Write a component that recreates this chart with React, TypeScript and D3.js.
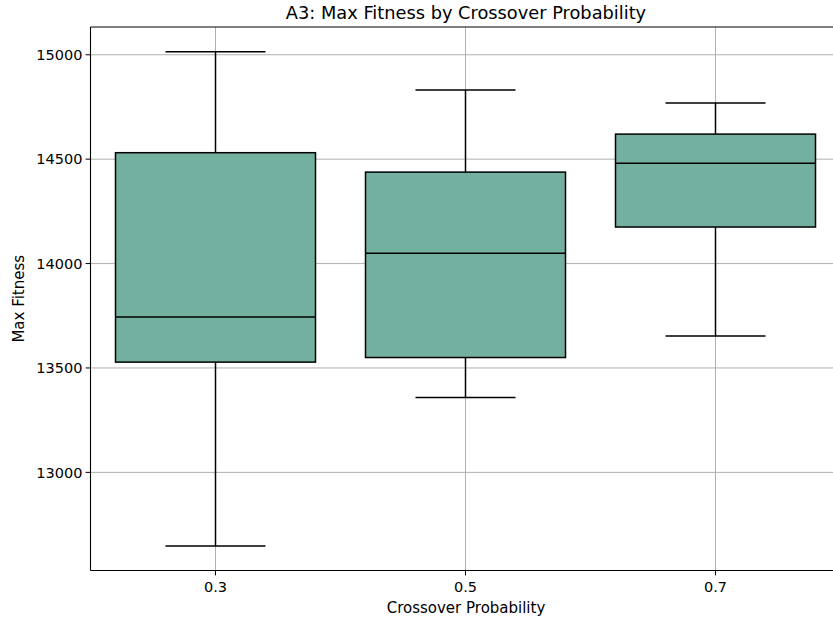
import React from 'react';
import * as d3 from 'd3';

const categories = ['0.3', '0.5', '0.7'];
const whiskerLow = [12647, 13358, 13653];
const q1 = [13528, 13550, 14175];
const medians = [13744, 14050, 14481];
const q3 = [14531, 14438, 14620];
const whiskerHigh = [15015, 14831, 14769];
const yTicks = [13000, 13500, 14000, 14500, 15000];

const W = 833;
const H = 621;
const margin = { top: 27, left: 90.5 };
const plotW = 750;
const plotH = 543.5;
const font = 'DejaVu Sans, sans-serif';
const fill = '#74b0a0';

const App = () => {
  const x = d3.scaleBand<string>().domain(categories).range([0, plotW]).paddingInner(0).paddingOuter(0);
  const y = d3.scaleLinear().domain([12530, 15133]).range([plotH, 0]);
  const bw = x.bandwidth();
  const boxW = bw * 0.8;
  const capW = boxW * 0.5;
  const cx = (c: string) => (x(c) ?? 0) + bw / 2;

  return (
    <svg width={W} height={H} style={{ display: 'block', position: 'absolute', left: 0, top: 0 }}>
      <rect width={W} height={H} fill="#fff" />
      <text x={466} y={19} textAnchor="middle" fontFamily={font} fontSize={17.8} fill="#000">
        A3: Max Fitness by Crossover Probability
      </text>
      <g transform={`translate(${margin.left},${margin.top})`}>
        {yTicks.map(t => (
          <g key={t}>
            <line x1={0} x2={plotW} y1={y(t)} y2={y(t)} stroke="#b0b0b0" strokeWidth={1} />
            <line x1={-4.9} x2={0} y1={y(t)} y2={y(t)} stroke="#000" strokeWidth={1} />
            <text x={-8} y={y(t)} dy="0.36em" textAnchor="end" fontFamily={font} fontSize={14.5} fill="#000">
              {t}
            </text>
          </g>
        ))}
        {categories.map(c => (
          <g key={c}>
            <line x1={cx(c)} x2={cx(c)} y1={0} y2={plotH} stroke="#b0b0b0" strokeWidth={1} />
            <line x1={cx(c)} x2={cx(c)} y1={plotH} y2={plotH + 4.9} stroke="#000" strokeWidth={1} />
            <text x={cx(c)} y={plotH + 21.5} textAnchor="middle" fontFamily={font} fontSize={14.5} fill="#000">
              {c}
            </text>
          </g>
        ))}
        {categories.map((c, i) => (
          <g key={'b' + c} stroke="#000" strokeWidth={1.5}>
            <line x1={cx(c)} x2={cx(c)} y1={y(q3[i])} y2={y(whiskerHigh[i])} />
            <line x1={cx(c)} x2={cx(c)} y1={y(q1[i])} y2={y(whiskerLow[i])} />
            <line x1={cx(c) - capW / 2} x2={cx(c) + capW / 2} y1={y(whiskerHigh[i])} y2={y(whiskerHigh[i])} />
            <line x1={cx(c) - capW / 2} x2={cx(c) + capW / 2} y1={y(whiskerLow[i])} y2={y(whiskerLow[i])} />
            <rect
              x={cx(c) - boxW / 2}
              y={y(q3[i])}
              width={boxW}
              height={y(q1[i]) - y(q3[i])}
              fill={fill}
            />
            <line x1={cx(c) - boxW / 2} x2={cx(c) + boxW / 2} y1={y(medians[i])} y2={y(medians[i])} />
          </g>
        ))}
        <line x1={0} x2={0} y1={0} y2={plotH} stroke="#000" strokeWidth={1.1} />
        <line x1={0} x2={plotW} y1={plotH} y2={plotH} stroke="#000" strokeWidth={1.1} />
        <line x1={0} x2={plotW} y1={0} y2={0} stroke="#000" strokeWidth={1.1} />
        <line x1={plotW} x2={plotW} y1={0} y2={plotH} stroke="#000" strokeWidth={1.1} />
      </g>
      <text x={466} y={613} textAnchor="middle" fontFamily={font} fontSize={15} fill="#000">
        Crossover Probability
      </text>
      <text
        transform={`translate(23.5,${margin.top + plotH / 2}) rotate(-90)`}
        textAnchor="middle"
        fontFamily={font}
        fontSize={15}
        fill="#000"
      >
        Max Fitness
      </text>
    </svg>
  );
};

export default App;
